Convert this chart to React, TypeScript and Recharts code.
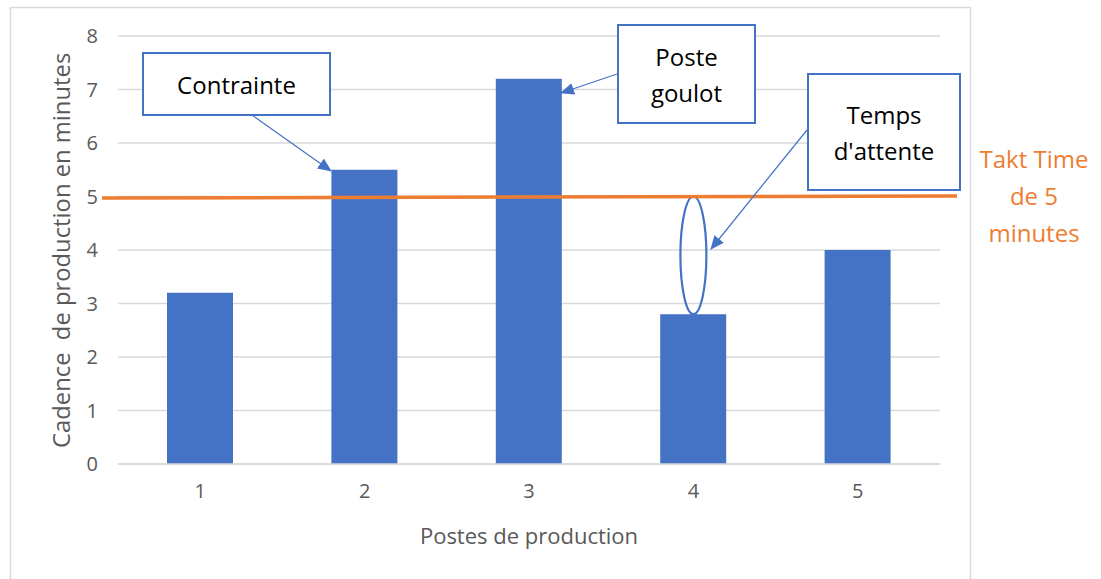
import React from 'react'
import {
  ComposedChart, Bar, XAxis, YAxis, CartesianGrid,
  ReferenceLine, ReferenceArea,
} from 'recharts'

// Postes de production et cadence (minutes)
const postes = ['1', '2', '3', '4', '5']
const cadence = [3.2, 5.5, 7.2, 2.8, 4.0]
const yTicks = [0, 1, 2, 3, 4, 5, 6, 7, 8]
const taktTime = 5
const attenteBas = 2.8

const BLUE = '#4472C4'
const ORANGE = '#ED7D31'
const GRID = '#d9d9d9'
const TEXT = '#595959'
const FONT = '"Open Sans", sans-serif'

const data = postes.map((p, i) => ({ poste: p, cadence: cadence[i] }))

const TaktLine = (p: any) => (
  <line x1={p.x1 - 16} y1={p.y1 + 1.5} x2={p.x2 + 17} y2={p.y2 - 0.5} stroke={ORANGE} strokeWidth={3.5} />
)

const Attente = (p: any) => (
  <ellipse
    cx={p.x + p.width / 2}
    cy={p.y + p.height / 2}
    rx={13}
    ry={p.height / 2}
    fill="none"
    stroke={BLUE}
    strokeWidth={2.2}
  />
)

const Box = ({ x, y, w, h, lines }: { x: number; y: number; w: number; h: number; lines: string[] }) => {
  const cx = x + w / 2
  const cy = y + h / 2
  const lh = 36
  const start = cy - ((lines.length - 1) * lh) / 2
  return (
    <g>
      <rect x={x} y={y} width={w} height={h} fill="#fff" stroke={BLUE} strokeWidth={2} />
      {lines.map((l, i) => (
        <text key={i} x={cx} y={start + i * lh} textAnchor="middle" dominantBaseline="central"
          fontFamily={FONT} fontSize={24} fill="#000">{l}</text>
      ))}
    </g>
  )
}

export default function App() {
  return (
    <div style={{ position: 'absolute', left: 0, top: 0, width: 1101, height: 579, background: '#fff' }}>
      <svg width={1101} height={579} style={{ position: 'absolute', left: 0, top: 0 }}>
        <rect x={10.5} y={7.5} width={960} height={600} fill="#fff" stroke={GRID} strokeWidth={1.5} />
      </svg>
      <div style={{ position: 'absolute', left: 0, top: 0 }}>
        <ComposedChart
          width={1101}
          height={579}
          data={data}
          margin={{ top: 36, right: 161, bottom: 75, left: 58 }}
        >
          <CartesianGrid vertical={false} stroke={GRID} strokeWidth={1.5} />
          <XAxis
            dataKey="poste"
            height={40}
            axisLine={{ stroke: GRID, strokeWidth: 1.5 }}
            tickLine={false}
            tickMargin={14}
            tick={{ fill: TEXT, fontSize: 20, fontFamily: FONT }}
            label={{ value: 'Postes de production', position: 'insideBottom', offset: -40, fill: TEXT, fontSize: 22, fontFamily: FONT }}
          />
          <YAxis
            type="number"
            domain={[0, 8]}
            ticks={yTicks}
            width={60}
            axisLine={false}
            tickLine={false}
            tickMargin={14}
            tick={{ fill: TEXT, fontSize: 20, fontFamily: FONT }}
            label={{
              value: 'Cadence \u00A0de production en minutes',
              angle: -90,
              position: 'insideLeft',
              dx: -1,
              dy: 198,
              fill: TEXT,
              fontSize: 23.8,
              fontFamily: FONT,
            }}
          />
          <Bar dataKey="cadence" fill={BLUE} barSize={66} isAnimationActive={false} />
          <ReferenceLine y={taktTime} shape={TaktLine} ifOverflow="visible" />
          <ReferenceArea x1="4" x2="4" y1={attenteBas} y2={taktTime} shape={Attente} ifOverflow="visible" />
        </ComposedChart>
      </div>
      <svg width={1101} height={579} style={{ position: 'absolute', left: 0, top: 0, pointerEvents: 'none' }}>
        <defs>
          <marker id="arr" markerWidth={14} markerHeight={12} refX={13} refY={6} orient="auto" markerUnits="userSpaceOnUse">
            <path d="M0,0 L14,6 L0,12 z" fill={BLUE} />
          </marker>
        </defs>
        <line x1={252} y1={115} x2={331} y2={171} stroke={BLUE} strokeWidth={1.2} markerEnd="url(#arr)" />
        <line x1={617} y1={74} x2={561} y2={93} stroke={BLUE} strokeWidth={1.2} markerEnd="url(#arr)" />
        <line x1={807} y1={130} x2={711} y2={249} stroke={BLUE} strokeWidth={1.2} markerEnd="url(#arr)" />
        <Box x={143} y={53} w={187} h={62} lines={['Contrainte']} />
        <Box x={618} y={25} w={137} h={98} lines={['Poste', 'goulot']} />
        <Box x={808} y={74} w={152} h={116} lines={['Temps', "d'attente"]} />
        {['Takt Time', 'de 5', 'minutes'].map((l, i) => (
          <text key={l} x={1034} y={158 + i * 37} textAnchor="middle" dominantBaseline="central"
            fontFamily={FONT} fontSize={24} fill={ORANGE}>{l}</text>
        ))}
      </svg>
    </div>
  )
}
